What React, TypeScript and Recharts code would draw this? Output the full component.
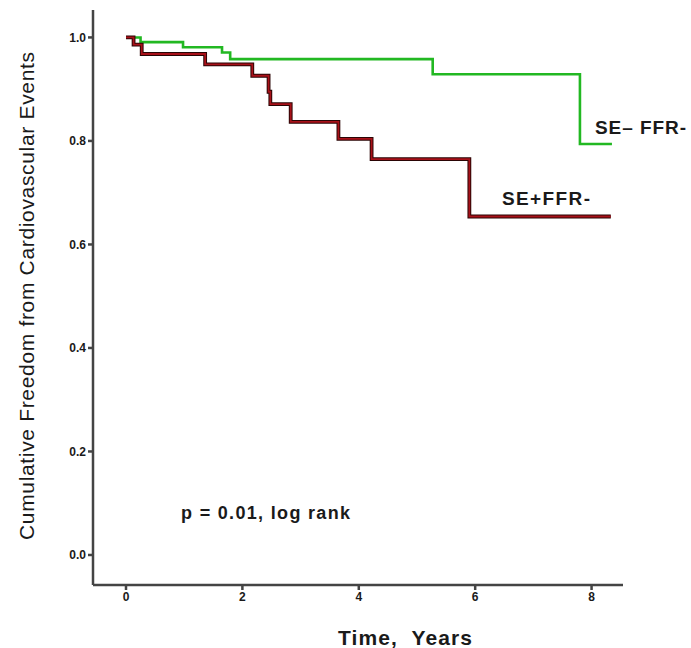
import { LineChart, Line, XAxis, YAxis } from 'recharts'

// Kaplan-Meier steps (time in years, cumulative survival)
const seNegTimes = [0, 0.25, 0.98, 1.65, 1.79, 5.27, 7.8, 8.35]
const seNegSurv = [1.0, 0.991, 0.981, 0.971, 0.958, 0.929, 0.794, 0.794]

const sePosTimes = [0, 0.13, 0.27, 1.36, 2.17, 2.45, 2.48, 2.83, 3.65, 4.22, 5.9, 8.33]
const sePosSurv = [1.0, 0.986, 0.968, 0.948, 0.926, 0.895, 0.871, 0.837, 0.804, 0.765, 0.654, 0.654]

const xTicks = [0, 2, 4, 6, 8]
const yTicks = [0, 0.2, 0.4, 0.6, 0.8, 1.0]

const seNeg = seNegTimes.map((t, i) => ({ t, s: seNegSurv[i] }))
const sePos = sePosTimes.map((t, i) => ({ t, s: sePosSurv[i] }))

const font = '"Liberation Sans", Arial, sans-serif'
const axisColor = '#444'
const tickStyle = { fontSize: 12, fontWeight: 700, fill: '#1a1a1a', fontFamily: font }

export default function App() {
  return (
    <div style={{ position: 'absolute', left: 0, top: 0, width: 691, height: 648, background: '#fff' }}>
      <LineChart width={691} height={648} margin={{ top: 10, right: 68, bottom: 0, left: 0 }}>
        <XAxis
          type="number"
          dataKey="t"
          domain={[-0.567, 8.54]}
          ticks={xTicks}
          allowDataOverflow
          height={63}
          stroke={axisColor}
          strokeWidth={2.5}
          tickSize={5}
          tick={tickStyle}
        />
        <YAxis
          type="number"
          dataKey="s"
          domain={[-0.058, 1.053]}
          ticks={yTicks}
          allowDataOverflow
          width={93}
          stroke={axisColor}
          strokeWidth={2.5}
          tickSize={5}
          tick={tickStyle}
          tickFormatter={(v: number) => v.toFixed(1)}
        />
        <Line data={seNeg} dataKey="s" type="stepAfter" stroke="#22b822" strokeWidth={2.6} dot={false} isAnimationActive={false} />
        <Line data={sePos} dataKey="s" type="stepAfter" stroke="#2a0505" strokeWidth={3.8} dot={false} isAnimationActive={false} />
        <Line data={sePos} dataKey="s" type="stepAfter" stroke="#a81119" strokeWidth={1.8} dot={false} isAnimationActive={false} />
      </LineChart>
      <svg width={691} height={648} style={{ position: 'absolute', left: 0, top: 0, pointerEvents: 'none' }}>
        <g fontFamily={font} fill="#1a1a1a">
          <text x={26} y={296} transform="rotate(-90 26 296)" textAnchor="middle" dominantBaseline="central"
            fontSize={21} textLength={488} lengthAdjust="spacing">
            Cumulative Freedom from Cardiovascular Events
          </text>
          <text x={338} y={637} dominantBaseline="central" fontSize={21} fontWeight={700}
            textLength={134} lengthAdjust="spacing" style={{ whiteSpace: 'pre' }}>
            {'Time,  Years'}
          </text>
          <text x={181} y={513} dominantBaseline="central" fontSize={18} fontWeight={700}
            textLength={169} lengthAdjust="spacing">
            p = 0.01, log rank
          </text>
          <text x={595} y={127} dominantBaseline="central" fontSize={19} fontWeight={700}
            textLength={91} lengthAdjust="spacing">
            SE– FFR-
          </text>
          <text x={502} y={198} dominantBaseline="central" fontSize={19} fontWeight={700}
            textLength={88} lengthAdjust="spacing">
            SE+FFR-
          </text>
        </g>
      </svg>
    </div>
  )
}
